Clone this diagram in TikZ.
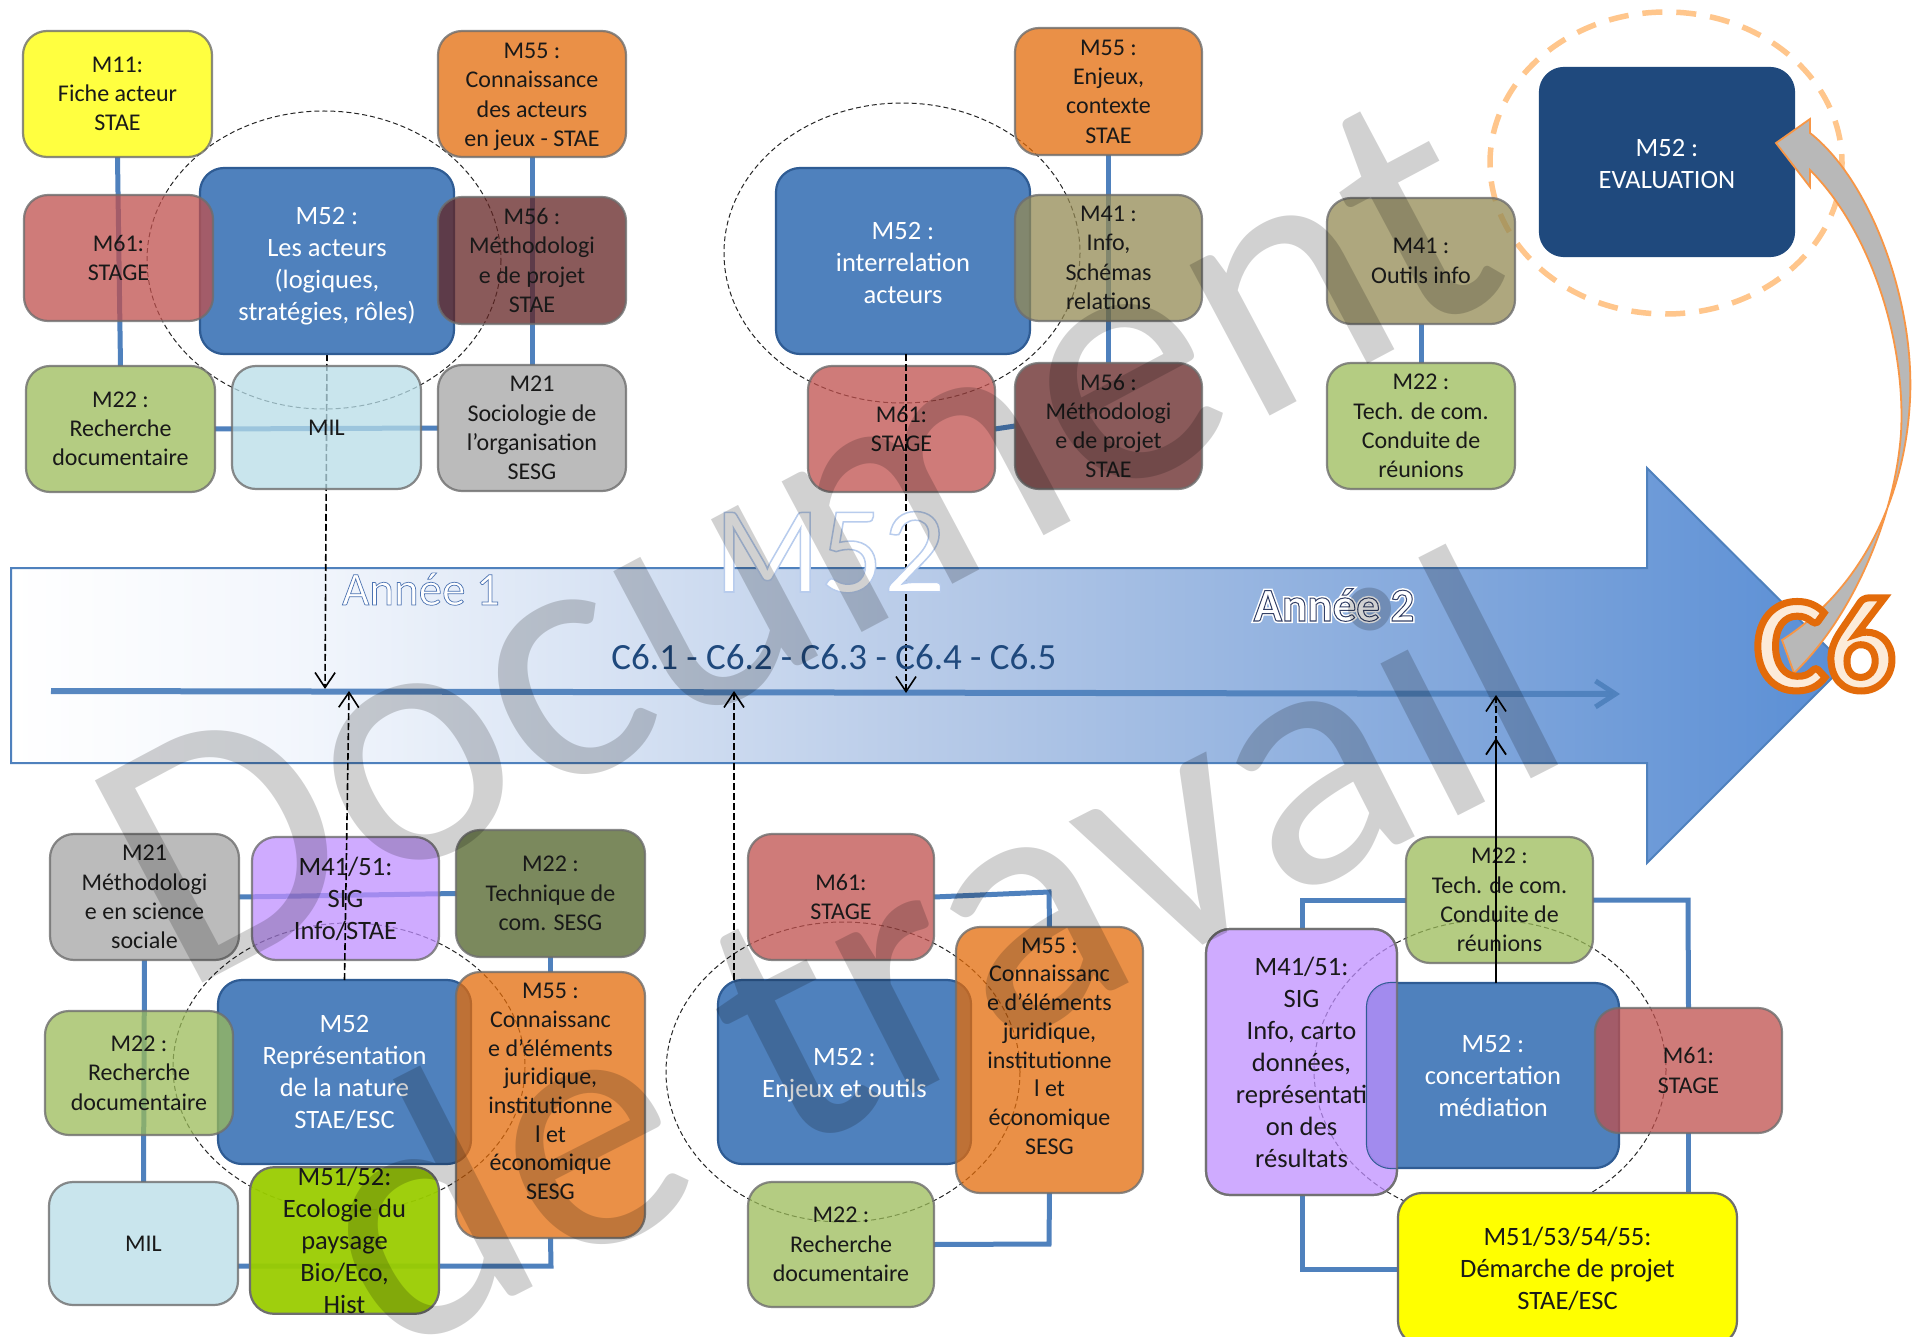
\documentclass[tikz,border=0pt]{standalone}
\usepackage{fontspec}
\setmainfont{Carlito}
\usetikzlibrary{arrows.meta,backgrounds}
\definecolor{cblue}{HTML}{4F81BD}
\definecolor{cblueb}{HTML}{2F5C94}
\definecolor{cnavy}{HTML}{1F497D}
\definecolor{cyell}{HTML}{FFFF00}
\definecolor{coran}{HTML}{E46C0A}
\definecolor{cred}{HTML}{C0504D}
\definecolor{cdred}{HTML}{632423}
\definecolor{cgreen}{HTML}{9BBB59}
\definecolor{cdgreen}{HTML}{4F6228}
\definecolor{cgray}{HTML}{A5A5A5}
\definecolor{cmil}{HTML}{B7DDE8}
\definecolor{ckhaki}{HTML}{948A54}
\definecolor{cpurp}{HTML}{BF8FFF}
\definecolor{clime}{HTML}{9ACD00}
\definecolor{cedge}{HTML}{6E6E6E}
\definecolor{cshaft}{HTML}{F79646}
\pgfdeclarehorizontalshading{bigfade}{100bp}{
  rgb(0bp)=(1,1,1); rgb(25bp)=(1,1,1); rgb(33bp)=(.95,.965,.99); rgb(40bp)=(.86,.90,.96);
  rgb(50bp)=(.72,.795,.91); rgb(65bp)=(.50,.65,.86); rgb(75bp)=(.35,.557,.835); rgb(100bp)=(.35,.557,.835)}
\pgfdeclarelayer{back}
\pgfdeclarelayer{conn}
\pgfdeclarelayer{front}
\pgfsetlayers{back,conn,main,front}
\tikzset{
  boxbase/.style={draw=cedge,line width=2.2pt,rounded corners=24pt,align=center,inner sep=0pt,outer sep=0pt,
    font=\fontsize{24}{29.3}\selectfont,text=black!90},
  soft/.style={fill opacity=.75,draw opacity=.8,text opacity=1},
  bigtxt/.style={font=\fontsize{26.5}{32}\selectfont},
  tight/.style={font=\fontsize{24}{28.7}\selectfont},
  core/.style={bigtxt,fill=cblue,draw=cblueb,text=white},
  link/.style={draw=cblue,line width=5pt},
  halo/.style={draw=black,line width=1pt,dash pattern=on 5pt off 3pt,opacity=.85},
  probe/.style={draw=black,line width=1.6pt,dash pattern=on 7pt off 3pt,-{Straight Barb[length=15pt,width=20pt,line width=1.6pt]}},
  wm/.style={anchor=base west,inner sep=0pt,text=black,text opacity=.18,font=\fontsize{357}{400}\selectfont}
}
\newcommand\bx[7]{%
  \pgfmathsetmacro\bxw{#5-#3}\pgfmathsetmacro\bxh{#6-#4}%
  \pgfmathsetmacro\bxx{(#3+#5)/2}\pgfmathsetmacro\bxy{(#4+#6)/2}%
  \node[boxbase,#2,minimum width=\bxw pt,minimum height=\bxh pt] (#1) at (\bxx,\bxy) {#7};}
\newcommand\outl[4]{\special{pdf:code 2 Tr #1 w #2 RG #3 rg}#4\special{pdf:code 0 Tr 1 w}}
\newcommand\lowr[1]{\rule{0pt}{#1pt}}
\newcommand\highr[1]{\rule[-#1pt]{0pt}{0pt}}
\begin{document}
\begin{tikzpicture}[x=1pt,y=-1pt]
\useasboundingbox (0,0) rectangle (1915,1337);
\clip (0,0) rectangle (1915,1337);
\begin{pgfonlayer}{back}
\fill[white] (0,0) rectangle (1915,1337);
\end{pgfonlayer}

% ---- group 1
\bx{mA}{soft,fill=cyell}{23}{31}{212}{157}{M11:\\Fiche acteur\\STAE}
\bx{mB}{soft,fill=coran}{438}{31}{626}{157}{\lowr{21}M55 :\\Connaissance\\des acteurs\\en jeux - STAE}
\bx{mC}{core}{200}{168}{454}{354}{\lowr{27}M52 :\\Les acteurs\\(logiques,\\stratégies, rôles)}
\bx{mD}{soft,fill=cred}{24}{195}{213}{321}{M61:\\STAGE}
\bx{mE}{soft,fill=cdred}{438}{197}{626}{324}{M56 :\\Méthodologi\\e de projet\\STAE}
\bx{mF}{soft,fill=cgreen}{26}{366}{215}{492}{M22 :\\Recherche\\documentaire}
\bx{mG}{soft,fill=cmil}{232}{366}{421}{489}{MIL}
\bx{mH}{soft,fill=cgray}{438}{365}{626}{491}{M21\\Sociologie de\\l’organisation\\SESG}
% ---- group 2
\bx{nA}{soft,fill=coran}{1015}{28}{1202}{155}{M55 :\\Enjeux,\\contexte\\STAE}
\bx{nB}{core}{776}{168}{1030}{354}{\lowr{22}M52 :\\interrelation\\acteurs}
\bx{nC}{soft,fill=ckhaki}{1015}{195}{1202}{321}{M41 :\\Info,\\Schémas\\relations}
\bx{nD}{soft,fill=cdred}{1015}{363}{1202}{489}{M56 :\\Méthodologi\\e de projet\\STAE}
\bx{nE}{soft,fill=cred}{808}{366}{995}{492}{M61:\\STAGE}
% ---- group 3
\bx{oA}{soft,fill=ckhaki}{1327}{198}{1515}{324}{M41 :\\Outils info}
\bx{oB}{soft,fill=cgreen}{1327}{363}{1515}{489}{M22 :\\Tech. de com.\\Conduite de\\réunions}
\bx{oC}{draw=cnavy,fill=cnavy,text=white,bigtxt}{1540}{68}{1794}{256}{\lowr{22}M52 :\\EVALUATION}
% ---- group 4
\bx{pA}{soft,fill=cgray}{50}{834}{239}{960}{M21\\Méthodologi\\e en science\\sociale}
\bx{pB}{soft,fill=cpurp,bigtxt}{252}{837}{439}{960}{M41/51:\\SIG\\Info/STAE}
\bx{pC}{soft,fill=cdgreen}{456}{830}{645}{957}{M22 :\\Technique de\\com. SESG}
\bx{pD}{core}{218}{980}{471}{1164}{M52\\Représentation\\de la nature\\STAE/ESC}
\bx{pE}{soft,fill=cgreen}{45}{1011}{233}{1135}{M22 :\\Recherche\\documentaire}
\bx{pF}{soft,fill=coran,tight}{456}{972}{645}{1238}{M55 :\\Connaissanc\\e d’éléments\\juridique,\\institutionne\\l et\\économique\\SESG\highr{27}}
\bx{pG}{soft,fill=cmil}{49}{1182}{238}{1305}{MIL}
\bx{pH}{fill=clime,fill opacity=.95,text opacity=1,bigtxt}{250}{1179}{439}{1302}{M51/52:\\Ecologie du\\paysage\\Bio/Eco,\\Hist}
% ---- group 5
\bx{qA}{soft,fill=cred}{748}{834}{934}{960}{M61:\\STAGE}
\bx{qB}{core}{718}{980}{971}{1164}{\lowr{24}M52 :\\Enjeux et outils}
\bx{qC}{soft,fill=coran,tight}{956}{927}{1143}{1193}{M55 :\\Connaissanc\\e d’éléments\\juridique,\\institutionne\\l et\\économique\\SESG\highr{28}}
\bx{qD}{soft,fill=cgreen}{748}{1182}{934}{1307}{M22 :\\Recherche\\documentaire}
% ---- group 6
\bx{rA}{soft,fill=cgreen}{1406}{837}{1593}{963}{M22 :\\Tech. de com.\\Conduite de\\réunions}
\bx{rB}{soft,fill=cpurp,bigtxt}{1206}{929}{1397}{1195}{M41/51:\\SIG\\Info, carto\\données,\\représentati\\on des\\résultats}
\bx{rC}{core}{1367}{983}{1619}{1168}{M52 :\\concertation\\médiation}
\begin{scope}
  \clip[rounded corners=24pt] (rB.south west) rectangle (rB.north east);
  \fill[cpurp,opacity=.75,rounded corners=24pt] (rC.south west) rectangle (rC.north east);
\end{scope}
\draw[cedge,line width=2.2pt,draw opacity=.8,rounded corners=24pt] (rB.south west) rectangle (rB.north east);
\bx{rD}{soft,fill=cred}{1595}{1008}{1782}{1133}{M61:\\STAGE}
\bx{rE}{fill=cyell,bigtxt}{1398}{1193}{1737}{1345}{M51/53/54/55:\\Démarche de projet\\STAE/ESC}

% ---- free ends
\coordinate (tlA) at (51,691);
\coordinate (tlB) at (1620,694);
\coordinate (tipA) at (325,689);
\coordinate (tipB) at (906,693);
\coordinate (tipC) at (349,691);
\coordinate (tipD) at (734,691);
\coordinate (tipE) at (1496,695);
\coordinate (tipF) at (1496,738);
\coordinate (jA) at (551,1266);
\coordinate (jB) at (1049,892);
\coordinate (jC) at (1049,1244);
\coordinate (jD) at (1302,900);
\coordinate (jE) at (1688,900);

\begin{pgfonlayer}{back}
  \path[shade,shading=bigfade,draw=cblue,line width=2pt]
    (11,568) -- (1647,568) -- (1647,468) -- (1845,665) -- (1647,863) -- (1647,763) -- (11,763) -- cycle;
\end{pgfonlayer}

\begin{pgfonlayer}{conn}
  \draw[link] (mA.south) -- (mF.north);
  \draw[link] (mB.south) -- (mH.north);
  \draw[link] (mF.east) -- (mH.west);
  \draw[link] (nA.south) -- (nD.north);
  \draw[link] (nE.east) -- (nD.west);
  \draw[link] (oA.south) -- (oB.north);
  \draw[link] (pA.east) -- (pC.west);
  \draw[link] (pA.south) -- (pG.north);
  \draw[link] (pC.south) -- (pF.north);
  \draw[link] (pG.east |- jA) -- (jA) -- (pF.south);
  \draw[link] (qA.east) -- (jB) -- (qC.north);
  \draw[link] (qC.south) -- (jC) -- (qD.east);
  \draw[link] (rB.north -| jD) -- (jD) -- (rA.west);
  \draw[link] (rA.east) -- (jE) -- (rD.north);
  \draw[link] (rD.south) -- (rD.south |- rE.north);
  \draw[link] (rB.south -| jD) |- (rE.west);
  \draw[halo] (324,260) ellipse [x radius=177,y radius=149];
  \draw[halo] (902,253) ellipse [x radius=178,y radius=150];
  \draw[halo] (349,1067) ellipse [x radius=176,y radius=144];
  \draw[halo] (843,1072) ellipse [x radius=177,y radius=150];
  \draw[halo] (1490,1070) ellipse [x radius=176,y radius=150];
  \draw[draw=orange!45!white,line width=5.5pt,dash pattern=on 20pt off 14pt] (1666,163) ellipse [x radius=176,y radius=151];
  \draw[probe] (mC.south) -- (tipA);
\end{pgfonlayer}

\begin{pgfonlayer}{front}
  % timeline
  \draw[cblue,line width=6pt,opacity=.95,-{Straight Barb[length=20pt,width=26pt,line width=5pt]}] (tlA) -- (tlB);
  \draw[probe] (nB.south -| tipB) -- (tipB);
  \draw[probe] (pD.north) -- (tipC);
  \draw[probe] (qB.north -| tipD) -- (tipD);
  \draw[probe] (rC.north -| tipE) -- (tipE);
  \draw[black,line width=1.8pt,-{Straight Barb[length=15pt,width=20pt,line width=1.8pt]}] (rC.north -| tipF) -- (tipF);
  % display texts
  \node[anchor=base,inner sep=0pt,font=\fontsize{124}{130}\selectfont] (tM) at (830,592) {\outl{1.5}{.72 .80 .93}{1 1 1}{M52}};
  \node[anchor=base,inner sep=0pt,font=\fontsize{47}{50}\selectfont] (tY) at (421,605) {\outl{.7}{.3 .45 .7}{1 1 1}{Année 1}};
  \node[anchor=base,inner sep=0pt,font=\bfseries\fontsize{47}{50}\selectfont] (tZ) at (1334,621) {\outl{4}{1 1 1}{1 1 1}{\rlap{Année 2}}\outl{1}{.2 .25 .4}{1 1 1}{Année 2}};
  \node[anchor=base,inner sep=0pt,text=cnavy,font=\fontsize{37}{40}\selectfont] (tC) at (834,669) {C6.1 - C6.2 - C6.3 - C6.4 - C6.5};
  % curved arrow
  \draw[draw=cshaft,line width=1.8pt,fill=black!28,line join=miter]
    (1776,143) -- (1810,119) -- (1810,133) .. controls (1870,180) and (1915,300) .. (1910,400)
    .. controls (1905,500) and (1860,590) .. (1782,640) -- (1794,673)
    .. controls (1850,620) and (1895,520) .. (1901,433)
    .. controls (1906,340) and (1870,230) .. (1810,170) -- (1810,187) -- cycle;
  \node[anchor=base,inner sep=0pt,font=\bfseries\fontsize{135}{140}\selectfont] (tS) at (1825,690) {\outl{7}{.89 .42 .04}{.99 .92 .85}{C6}};
  % watermark
  \node[wm,rotate=28] (wA) at (181,995) {Document};
  \node[wm,rotate=27] (wB) at (388,1361) {de travail};
\end{pgfonlayer}
\end{tikzpicture}
\end{document}
